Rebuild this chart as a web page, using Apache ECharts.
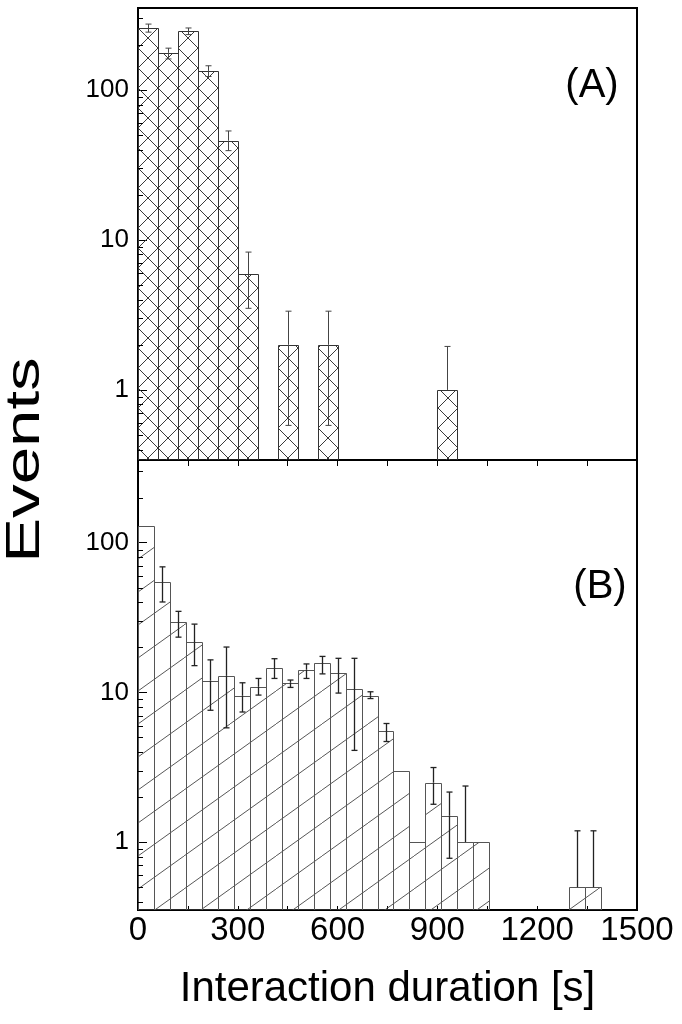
<!DOCTYPE html>
<html><head><meta charset="utf-8">
<script src="https://cdn.jsdelivr.net/npm/echarts@6/dist/echarts.min.js"></script>
<style>html,body{margin:0;padding:0;background:#fff}#c{width:682px;height:1024px}</style>
</head><body><div id="c"></div>
<script>
// ---------- data ----------
const xTickLabels = [0, 300, 600, 900, 1200, 1500];
const yMajorTicks = [1, 10, 100];
const yMinorTicks = [0.4,0.5,0.6,0.7,0.8,0.9,2,3,4,5,6,7,8,9,20,30,40,50,60,70,80,90,200,300];

// Panel (A): 60 s bins
const aBinWidth = 60;
const aBinStart = [0, 60, 120, 180, 240, 300, 420, 540, 900];
const aCounts   = [258, 177, 247, 134, 46, 5.9, 2, 2, 1];
const aErrHigh  = [275, 190, 259, 145, 53.3, 8.3, 3.35, 3.35, 1.95];
const aErrLow   = [243, 161, 234, 123, 39.4, 3.5, 0.58, 0.58, null];

// Panel (B): 48 s bins
const bBinWidth = 48;
const bBinStart = [0,48,96,144,192,240,288,336,384,432,480,528,576,624,672,720,768,816,864,912,960,1008,1296,1344];
const bCounts   = [129,54.5,29.4,21.6,12.0,12.9,9.5,10.9,14.5,11.6,14.2,15.7,13.4,10.5,9.5,5.5,3.0,1.0,2.5,1.5,1.0,1.0,0.5,0.5];
const bErrHigh  = [null,69,34.8,28.6,16.5,20.1,11.6,12.4,16.8,12.1,15.5,17.4,16.9,16.9,10.1,6.2,null,null,3.15,2.16,2.37,null,1.19,1.19];
const bErrLow   = [null,40.2,23.4,15.1,7.6,5.8,7.4,9.6,12.4,10.8,12.4,13.3,9.9,4.1,9.1,4.7,null,null,1.79,0.78,null,null,null,null];

// ---------- layout / style ----------
const FONT = '"Liberation Sans", Arial, sans-serif';
const GL = 138, GW = 499;
const gridA = {left: GL, top: 8, width: GW, height: 452};
const gridB = {left: GL, top: 460, width: GW, height: 450};

function crossTile() {
  const c = document.createElement('canvas'); c.width = 20; c.height = 20;
  const g = c.getContext('2d'); g.strokeStyle = '#3a3a3a'; g.lineWidth = 1;
  g.beginPath(); g.moveTo(0, 0); g.lineTo(20, 20); g.moveTo(20, 0); g.lineTo(0, 20); g.stroke();
  return c;
}
function hatchTile() {
  const W = 46, H = 33;
  const c = document.createElement('canvas'); c.width = W; c.height = H;
  const g = c.getContext('2d'); g.strokeStyle = '#444'; g.lineWidth = 0.9;
  g.beginPath(); g.moveTo(-2, H + 2 * H / W); g.lineTo(W + 2, -2 * H / W); g.stroke();
  return c;
}
const crossFill = {image: crossTile(), repeat: 'repeat', x: GL, y: 8};
const hatchFill = {image: hatchTile(), repeat: 'repeat', x: GL, y: 460};

function barSeries(ax, starts, counts, width, fill, stroke) {
  return {
    type: 'custom', xAxisIndex: ax, yAxisIndex: ax, silent: true, animation: false, clip: true,
    data: starts.map((s, i) => [s, counts[i]]),
    renderItem(params, api) {
      const x0 = api.value(0), v = api.value(1);
      const p0 = api.coord([x0, v]), p1 = api.coord([x0 + width, v]);
      const bottom = params.coordSys.y + params.coordSys.height;
      const xl = Math.round(p0[0]) + 0.5, xr = Math.round(p1[0]) + 0.5, yt = Math.round(p0[1]) + 0.5;
      return {type: 'rect', shape: {x: xl, y: yt, width: xr - xl, height: bottom - yt},
        style: {fill: fill, stroke: stroke, lineWidth: 1}};
    }
  };
}
function errSeries(ax, starts, counts, width, hi, lo, color, lw, cap) {
  return {
    type: 'custom', xAxisIndex: ax, yAxisIndex: ax, silent: true, animation: false, clip: true,
    data: starts.map((s, i) => [s + width / 2, counts[i]]),
    renderItem(params, api) {
      const i = params.dataIndex, xc = api.value(0), v = api.value(1);
      const children = [];
      const p = api.coord([xc, v]);
      const x = Math.round(p[0]) + 0.5;
      const bottom = params.coordSys.y + params.coordSys.height;
      const st = {stroke: color, lineWidth: lw};
      if (hi[i] != null) {
        const ph = api.coord([xc, hi[i]]);
        children.push({type: 'line', shape: {x1: x, y1: p[1], x2: x, y2: ph[1]}, style: st});
        children.push({type: 'line', shape: {x1: x - cap, y1: ph[1], x2: x + cap, y2: ph[1]}, style: st});
      }
      if (lo[i] != null) {
        const pl = api.coord([xc, lo[i]]);
        const yl = Math.min(pl[1], bottom);
        children.push({type: 'line', shape: {x1: x, y1: p[1], x2: x, y2: yl}, style: st});
        if (pl[1] < bottom) children.push({type: 'line', shape: {x1: x - cap, y1: pl[1], x2: x + cap, y2: pl[1]}, style: st});
      }
      return {type: 'group', children: children};
    }
  };
}
function minorTickSeries(ax) {
  return {
    type: 'custom', xAxisIndex: ax, yAxisIndex: ax, silent: true, animation: false, clip: true,
    data: yMinorTicks.map(v => [0, v]),
    renderItem(params, api) {
      const p = api.coord([0, api.value(1)]);
      const x0 = params.coordSys.x, y = Math.round(p[1]) + 0.5;
      return {type: 'line', shape: {x1: x0, y1: y, x2: x0 + 5, y2: y}, style: {stroke: '#000', lineWidth: 1}};
    }
  };
}

function yAxisDef(gi, min, max) {
  return {
    type: 'log', gridIndex: gi, min: min, max: max, logBase: 10,
    axisLine: {show: true, lineStyle: {color: '#000', width: 2}},
    axisTick: {show: true, inside: true, length: 9, lineStyle: {color: '#000', width: 1}},
    splitLine: {show: false}, minorTick: {show: false},
    axisLabel: {
      margin: 9, color: '#000', fontSize: 26, fontFamily: FONT,
      formatter: v => {
        const m = yMajorTicks.find(t => Math.abs(Math.log10(v) - Math.log10(t)) < 1e-6);
        return m != null ? String(m) : '';
      }
    }
  };
}

const chart = echarts.init(document.getElementById('c'), null, {renderer: 'canvas'});
chart.setOption({
  animation: false,
  backgroundColor: '#fff',
  grid: [
    Object.assign({show: true, borderColor: '#000', borderWidth: 2, containLabel: false}, gridA),
    Object.assign({show: true, borderColor: '#000', borderWidth: 2, containLabel: false}, gridB)
  ],
  xAxis: [
    {type: 'value', gridIndex: 0, min: 0, max: 1500, interval: 150,
     axisLine: {show: true, lineStyle: {color: '#000', width: 2}},
     axisTick: {show: true, inside: false, length: 6, lineStyle: {color: '#000', width: 1}},
     axisLabel: {show: false}, splitLine: {show: false}},
    {type: 'value', gridIndex: 1, min: 0, max: 1500, interval: 150,
     axisLine: {show: true, lineStyle: {color: '#000', width: 2}},
     axisTick: {show: true, inside: true, length: 4, lineStyle: {color: '#000', width: 1}},
     splitLine: {show: false},
     axisLabel: {margin: 4, color: '#000', fontSize: 33, fontFamily: FONT,
       formatter: v => xTickLabels.includes(v) ? String(v) : ''},
     name: 'Interaction duration [s]', nameLocation: 'middle', nameGap: 58,
     nameTextStyle: {color: '#000', fontSize: 42, fontFamily: FONT}}
  ],
  yAxis: [yAxisDef(0, 0.341, 352), yAxisDef(1, 0.352, 357)],
  graphic: [
    {type: 'text', x: 26, y: 460, rotation: Math.PI / 2, scaleX: 1.4,
     style: {text: 'Events', font: '48px ' + FONT, fill: '#000', textAlign: 'center', textVerticalAlign: 'middle'}},
    {type: 'text', x: 592, y: 86,
     style: {text: '(A)', font: '40px ' + FONT, fill: '#000', textAlign: 'center', textVerticalAlign: 'middle'}},
    {type: 'text', x: 600, y: 587,
     style: {text: '(B)', font: '40px ' + FONT, fill: '#000', textAlign: 'center', textVerticalAlign: 'middle'}}
  ],
  series: [
    barSeries(0, aBinStart, aCounts, aBinWidth, crossFill, '#333'),
    errSeries(0, aBinStart, aCounts, aBinWidth, aErrHigh, aErrLow, '#444', 1, 3),
    minorTickSeries(0),
    barSeries(1, bBinStart, bCounts, bBinWidth, hatchFill, '#555'),
    errSeries(1, bBinStart, bCounts, bBinWidth, bErrHigh, bErrLow, '#222', 1.3, 3),
    minorTickSeries(1)
  ]
});
</script></body></html>
